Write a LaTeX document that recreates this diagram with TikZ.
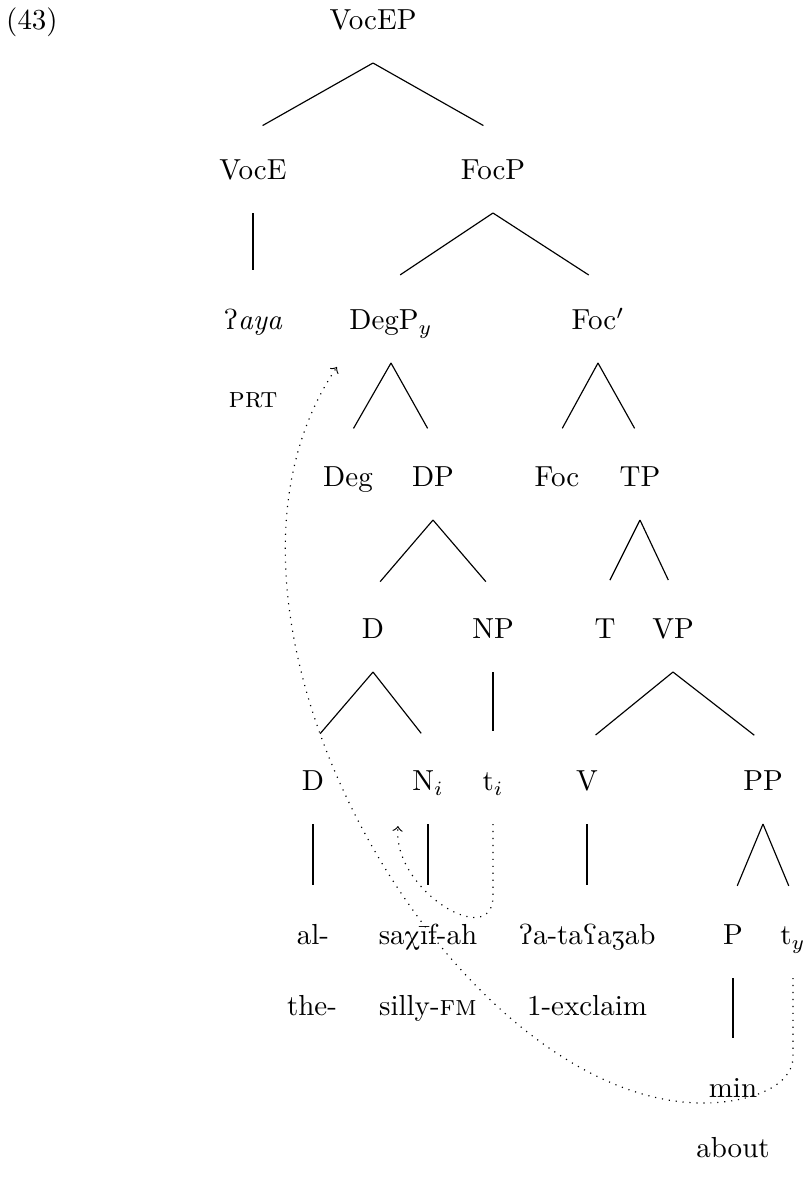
\documentclass[tikz,border=0pt]{standalone}
\usepackage{tipa}
\tikzset{
	catnode/.style={
			inner sep=0pt,
			outer sep=0pt,
			text height=1.5ex,
			text depth=.25ex,
			minimum height=28.3pt
		},
	branch/.style={
			shorten >=3.8pt
		},
	movearrow/.style={
			dotted,
			->
		}
}

\begin{document}
\begin{tikzpicture}[x=0.345pt, y=-0.345pt]
				\useasboundingbox (0,0) rectangle (807,1179);

				\node[catnode] (exnum) at (32, 22) {(43)};
				\node[catnode] (vocep) at (373, 22) {VocEP};

				\node[catnode] (voce) at (253, 172) {VocE};
				\node[catnode] (focp) at (493, 172) {FocP};

				\node[catnode] (aya) at (253, 322) {\textsl{\textglotstop}\textit{aya}};
				\node[catnode] (prt) at (253, 400) {\textsc{prt}};
				\node[catnode] (degp) at (391, 322) {DegP$_y$};
				\node[catnode] (focbar) at (598, 322) {Foc$'$};

				\node[catnode] (deg) at (348, 479) {Deg};
				\node[catnode] (dp) at (433, 479) {DP};
				\node[catnode] (foc) at (557, 479) {Foc};
				\node[catnode] (tp) at (640, 479) {TP};

				\node[catnode] (dhigh) at (373, 631) {D};
				\node[catnode] (np) at (493, 631) {NP};
				\node[catnode] (tnode) at (605, 631) {T};
				\node[catnode] (vp) at (673, 631) {VP};

				\node[catnode] (dlow) at (313, 783) {D};
				\node[catnode] (ni) at (428, 783) {N$_i$};
				\node[catnode] (ti) at (493, 783) {t$_i$};
				\node[catnode] (vnode) at (587, 783) {V};
				\node[catnode] (pp) at (763, 783) {PP};

				\node[catnode] (al) at (313, 937) {al-};
				\node[catnode] (saxif) at (428, 937) {sa\textchi\={\i}f-ah};
				\node[catnode] (taazab) at (587, 937) {\textglotstop a-ta\textrevglotstop a\textyogh ab};
				\node[catnode] (pnode) at (733, 937) {P};
				\node[catnode] (ty) at (793, 937) {t$_y$};

				\node[catnode] (the) at (312, 1008) {the-};
				\node[catnode] (silly) at (428, 1008) {silly-\textsc{fm}};
				\node[catnode] (exclaim) at (587, 1008) {1-exclaim};

				\node[catnode] (min) at (733, 1090) {min};
				\node[catnode] (about) at (733, 1150) {about};

				\coordinate (nitarget) at (398, 826);
				\coordinate (degptarget) at (337, 367);

				\draw[branch] (vocep.south) edge (voce.north);
				\draw[branch] (vocep.south) edge (focp.north);
				\draw[branch] (voce.south) edge (aya.north);
				\draw[branch] (focp.south) edge (degp.north);
				\draw[branch] (focp.south) edge (focbar.north);

				\draw[branch] (degp.south) edge (deg.north);
				\draw[branch] (degp.south) edge (dp.north);
				\draw[branch] (focbar.south) edge (foc.north);
				\draw[branch] (focbar.south) edge (tp.north);

				\draw[branch] (dp.south) edge (dhigh.north);
				\draw[branch] (dp.south) edge (np.north);
				\draw[branch] (tp.south) edge (tnode.north);
				\draw[branch] (tp.south) edge (vp.north);

				\draw[branch] (dhigh.south) edge (dlow.north);
				\draw[branch] (dhigh.south) edge (ni.north);
				\draw[branch] (np.south) edge (ti.north);
				\draw[branch] (vp.south) edge (vnode.north);
				\draw[branch] (vp.south) edge (pp.north);

				\draw[branch] (dlow.south) edge (al.north);
				\draw[branch] (ni.south) edge (saxif.north);
				\draw[branch] (vnode.south) edge (taazab.north);
				\draw[branch] (pp.south) edge (pnode.north);
				\draw[branch] (pp.south) edge (ty.north);
				\draw[branch] (pnode.south) edge (min.north);

				% movement arrows
				\draw[movearrow] (ti.south) -- ++(0, 72)
					.. controls +(0, 55) and +(-6, 64) .. (nitarget);
				\draw[movearrow] (ty.south) -- ++(0, 79)
					.. controls +(0, 30) and +(45, 0) .. ++(-90, 46)
					.. controls +(-250, 0) and +(-170, 250) .. (degptarget);
			\end{tikzpicture}
\end{document}
